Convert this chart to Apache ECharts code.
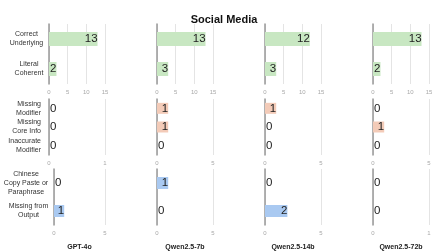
<!DOCTYPE html>
<html>
<head>
<meta charset="utf-8">
<script src="https://cdn.jsdelivr.net/npm/echarts@6/dist/echarts.min.js"></script>
<style>html,body{margin:0;padding:0;background:#fff;}#c{width:448px;height:252px;}</style>
</head>
<body>
<div id="c"></div>
<script>
const titleText = 'Social Media';
const models = ['GPT-4o', 'Qwen2.5-7b', 'Qwen2.5-14b', 'Qwen2.5-72b'];
const catsRow1 = ['Correct\nUnderlying', 'Literal\nCoherent'];
const catsRow2 = ['Missing\nModifier', 'Missing\nCore Info', 'Inaccurate\nModifier'];
const catsRow3 = ['Chinese\nCopy Paste or\nParaphrase', 'Missing from\nOutput'];
// values per model (GPT-4o, 7b, 14b, 72b)
const valuesRow1 = [[13, 2], [13, 3], [12, 3], [13, 2]];
const valuesRow2 = [[0, 0, 0], [1, 1, 0], [1, 0, 0], [0, 1, 0]];
const valuesRow3 = [[0, 1], [1, 0], [0, 2], [0, 0]];
const axisMaxRow1 = [15, 15, 15, 15];
const axisMaxRow2 = [1, 5, 5, 5];
const axisMaxRow3 = [5, 5, 5, 1];

const FONT = '"Liberation Sans", Arial, Helvetica, sans-serif';
const rows = [
  {cats: catsRow1, vals: valuesRow1, maxes: axisMaxRow1, top: 24, height: 60, barWidth: 14, color: '#c8e7c2', center: true, labelMargin: 5},
  {cats: catsRow2, vals: valuesRow2, maxes: axisMaxRow2, top: 99, height: 56, barWidth: 11, color: '#f3cbb8', center: false, labelMargin: 8},
  {cats: catsRow3, vals: valuesRow3, maxes: axisMaxRow3, top: 169, height: 57, barWidth: 12, color: '#a9c9f1', center: true, labelMargin: 5}
];
const colLeft = [49, 157, 265, 373];
const colWidth = 56;

const measureCtx = document.createElement('canvas').getContext('2d');
measureCtx.font = '7px ' + FONT;
function blockWidth(label) {
  return Math.max(...label.split('\n').map(l => measureCtx.measureText(l).width));
}

const grid = [], xAxis = [], yAxis = [], series = [];
rows.forEach((row, r) => {
  models.forEach((m, c) => {
    const idx = grid.length;
    grid.push({left: colLeft[c], top: row.top, width: colWidth, height: row.height, containLabel: false});
    const mx = row.maxes[c];
    xAxis.push({
      type: 'value', gridIndex: idx, min: 0, max: mx, interval: mx >= 5 ? 5 : 1,
      axisLine: {show: false}, axisTick: {show: false},
      axisLabel: {fontSize: 6, color: '#a8a8a8', margin: 5, fontFamily: FONT},
      splitLine: {show: true, lineStyle: {color: '#e4e4e4', width: 1}},
      name: r === 2 ? m : '', nameLocation: 'middle', nameGap: 19,
      nameTextStyle: {fontSize: 7, fontWeight: 'bold', color: '#222', fontFamily: FONT}
    });
    const yLabel = {
      show: c === 0, fontSize: 7, lineHeight: 9, color: '#333', margin: row.labelMargin, fontFamily: FONT
    };
    if (row.center) {
      const rich = {};
      row.cats.forEach((lab, i) => {
        rich['c' + i] = {width: Math.ceil(blockWidth(lab)) + 1, align: 'center', fontSize: 7, lineHeight: 9, color: '#333', fontFamily: FONT};
      });
      yLabel.formatter = (v, i) => v.split('\n').map(l => '{c' + i + '|' + l + '}').join('\n');
      yLabel.rich = rich;
    }
    yAxis.push({
      type: 'category', gridIndex: idx, data: row.cats, inverse: true,
      axisLine: {show: true, lineStyle: {color: '#999999', width: 1.5}},
      axisTick: {show: false},
      axisLabel: yLabel,
      splitLine: {show: false}
    });
    series.push({
      type: 'bar', xAxisIndex: idx, yAxisIndex: idx, barWidth: row.barWidth,
      itemStyle: {color: row.color},
      data: row.vals[c].map(v => ({
        value: v,
        label: {position: v === 0 ? 'right' : 'insideRight', distance: v === 0 ? 1 : 0}
      })),
      label: {show: true, fontSize: 11.5, color: '#222', fontFamily: FONT},
      silent: true, animation: false
    });
  });
});

const chart = echarts.init(document.getElementById('c'), null, {renderer: 'canvas'});
chart.setOption({
  backgroundColor: '#fff',
  animation: false,
  title: {text: titleText, left: 'center', top: 9, textStyle: {fontSize: 11, fontWeight: 'bold', color: '#111', fontFamily: FONT}},
  grid, xAxis, yAxis, series
});
</script>
</body>
</html>
